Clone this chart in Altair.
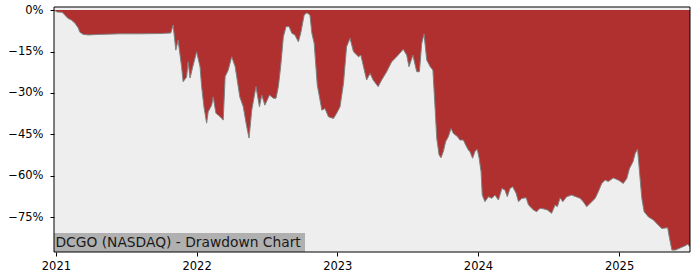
import altair as alt
import pandas as pd

dates = [
    "2020-12-27", "2021-01-04", "2021-01-17", "2021-01-24", "2021-02-01", "2021-02-10",
    "2021-02-19", "2021-02-28", "2021-03-04", "2021-03-13", "2021-03-26", "2021-04-25",
    "2021-06-16", "2021-08-07", "2021-09-28", "2021-10-26", "2021-11-01", "2021-11-08",
    "2021-11-14", "2021-11-23", "2021-11-27", "2021-12-06", "2021-12-10", "2021-12-15",
    "2021-12-22", "2022-01-01", "2022-01-10", "2022-01-14", "2022-01-20", "2022-01-27",
    "2022-01-31", "2022-02-09", "2022-02-13", "2022-02-20", "2022-02-26", "2022-03-07",
    "2022-03-11", "2022-03-16", "2022-03-24", "2022-04-02", "2022-04-11", "2022-04-15",
    "2022-04-23", "2022-05-02", "2022-05-11", "2022-05-17", "2022-05-24", "2022-06-04",
    "2022-06-13", "2022-06-19", "2022-06-27", "2022-07-09", "2022-07-19", "2022-07-26",
    "2022-08-01", "2022-08-07", "2022-08-14", "2022-08-21", "2022-08-29", "2022-09-05",
    "2022-09-13", "2022-09-22", "2022-09-28", "2022-10-07", "2022-10-14", "2022-10-22",
    "2022-10-27", "2022-11-02", "2022-11-10", "2022-11-22", "2022-11-30", "2022-12-09",
    "2022-12-22", "2022-12-30", "2023-01-08", "2023-01-17", "2023-01-25", "2023-02-03",
    "2023-02-12", "2023-02-25", "2023-03-03", "2023-03-09", "2023-03-18", "2023-03-27",
    "2023-04-04", "2023-04-17", "2023-04-26", "2023-05-09", "2023-05-22", "2023-06-04",
    "2023-06-21", "2023-06-30", "2023-07-06", "2023-07-16", "2023-07-26", "2023-08-02",
    "2023-08-08", "2023-08-14", "2023-08-21", "2023-08-30", "2023-09-06", "2023-09-12",
    "2023-09-16", "2023-09-22", "2023-09-27", "2023-10-03", "2023-10-09", "2023-10-16",
    "2023-10-23", "2023-10-29", "2023-11-09", "2023-11-15", "2023-11-24", "2023-11-30",
    "2023-12-07", "2023-12-11", "2023-12-18", "2023-12-24", "2023-12-30", "2024-01-04",
    "2024-01-09", "2024-01-12", "2024-01-19", "2024-01-28", "2024-02-06", "2024-02-14",
    "2024-02-23", "2024-03-03", "2024-03-11", "2024-03-17", "2024-03-24", "2024-03-31",
    "2024-04-09", "2024-04-15", "2024-04-24", "2024-05-05", "2024-05-11", "2024-05-24",
    "2024-06-01", "2024-06-10", "2024-06-19", "2024-06-29", "2024-07-10", "2024-07-19",
    "2024-07-25", "2024-08-01", "2024-08-08", "2024-08-18", "2024-08-31", "2024-09-11",
    "2024-09-22", "2024-09-30", "2024-10-09", "2024-10-18", "2024-10-31", "2024-11-08",
    "2024-11-17", "2024-11-26", "2024-12-04", "2024-12-17", "2024-12-30", "2025-01-12",
    "2025-01-21", "2025-01-28", "2025-02-06", "2025-02-12", "2025-02-18", "2025-02-23",
    "2025-03-01", "2025-03-07", "2025-03-18", "2025-03-31", "2025-04-13", "2025-04-22",
    "2025-05-07", "2025-05-12", "2025-05-18", "2025-05-27", "2025-06-09", "2025-06-22",
    "2025-06-28", "2025-07-04",
]

drawdown_pct = [
    0.0, -0.7, -0.8, -1.8, -3.0, -3.6,
    -4.7, -6.5, -8.0, -8.8, -9.0, -8.8,
    -8.6, -8.6, -8.5, -8.3, -5.4, -14.5,
    -10.9, -20.5, -25.9, -24.2, -18.7, -24.6,
    -20.5, -15.1, -20.6, -27.7, -35.0, -40.9,
    -36.8, -34.4, -31.4, -37.3, -38.0, -39.1,
    -39.8, -24.1, -21.7, -16.9, -20.5, -24.1,
    -31.4, -35.0, -42.2, -46.3, -36.2, -27.7,
    -35.0, -30.7, -34.4, -30.7, -31.9, -31.9,
    -27.7, -20.5, -9.7, -6.0, -6.0, -8.4,
    -9.0, -11.5, -8.4, -1.8, -1.0, -1.8,
    -8.4, -12.0, -27.1, -36.2, -35.6, -38.6,
    -39.2, -37.4, -35.0, -26.5, -13.3, -10.2,
    -15.1, -16.9, -16.3, -19.9, -25.3, -22.9,
    -25.3, -27.7, -25.3, -22.3, -18.7, -16.9,
    -14.2, -16.3, -20.5, -16.3, -22.3, -22.3,
    -12.0, -8.7, -18.1, -20.5, -21.7, -36.2,
    -46.4, -52.4, -53.4, -51.2, -47.6, -45.8,
    -42.8, -44.6, -45.8, -47.0, -47.0, -48.8,
    -50.6, -51.2, -53.6, -51.2, -50.3, -53.6,
    -58.5, -66.9, -69.3, -67.5, -68.1, -66.9,
    -68.7, -64.5, -65.1, -67.5, -64.5, -63.9,
    -66.3, -69.3, -68.1, -67.9, -70.5, -72.3,
    -72.9, -71.7, -71.9, -72.3, -73.5, -70.5,
    -71.1, -67.9, -69.3, -67.5, -66.9, -67.5,
    -68.1, -69.3, -71.1, -69.9, -68.1, -65.7,
    -62.7, -61.5, -62.0, -60.7, -61.5, -62.7,
    -60.9, -57.3, -54.9, -51.8, -50.3, -58.5,
    -68.1, -72.9, -74.8, -75.9, -77.8, -79.0,
    -78.7, -82.6, -86.8, -86.8, -86.0, -85.2,
    -84.7, -85.6,
]

year_ticks = [2021, 2022, 2023, 2024, 2025]
y_ticks = [0, -0.15, -0.30, -0.45, -0.60, -0.75]
label_text = ["DCGO (NASDAQ) - Drawdown Chart"]

df = pd.DataFrame({"date": dates, "dd": [v / 100 for v in drawdown_pct]})

W, H = 636, 245
FONT = "DejaVu Sans"

x_enc = alt.X(
    "date:T",
    scale=alt.Scale(
        type="utc",
        domain=[
            alt.DateTime(year=2020, month=12, date=27, utc=True),
            alt.DateTime(year=2025, month=7, date=4, utc=True),
        ],
    ),
    axis=alt.Axis(
        values=[alt.DateTime(year=y, month=1, date=1, utc=True) for y in year_ticks],
        format="%Y",
        title=None,
        grid=False,
        domain=False,
        tickColor="black",
        tickSize=4,
        labelPadding=4,
        labelFont=FONT,
        labelFontSize=11.5,
        labelColor="black",
    ),
)
y_enc = alt.Y(
    "dd:Q",
    scale=alt.Scale(domain=[-0.875, 0.011], nice=False, zero=False),
    axis=alt.Axis(
        values=y_ticks,
        format=".0%",
        title=None,
        grid=False,
        domain=False,
        tickColor="black",
        tickSize=4,
        labelPadding=7,
        labelFont=FONT,
        labelFontSize=11.5,
        labelColor="black",
    ),
)

base = alt.Chart(df)
area = base.mark_area(color="#b03030", interpolate="linear", clip=True).encode(
    x=x_enc, y=y_enc, y2=alt.value(0)
)
line = base.mark_line(color="#808080", strokeWidth=1, clip=True).encode(x=x_enc, y=y_enc)

lab_df = pd.DataFrame({"t": label_text})
box = alt.Chart(lab_df).mark_rect(color="#b0b0b0").encode(
    x=alt.value(0), x2=alt.value(251), y=alt.value(226), y2=alt.value(245)
)
txt = alt.Chart(lab_df).mark_text(
    align="left", baseline="alphabetic", font=FONT, fontSize=13.8, color="#1a1a1a"
).encode(x=alt.value(1.5), y=alt.value(240.3), text="t:N")

frame = alt.Chart(lab_df).mark_rect(filled=False, stroke="black", strokeWidth=1).encode(
    x=alt.value(0), x2=alt.value(W), y=alt.value(0), y2=alt.value(H)
)

chart = (
    alt.layer(area, line, box, txt, frame)
    .properties(
        width=W,
        height=H,
        padding={"left": 54, "top": 7, "right": 10, "bottom": 28},
        autosize=alt.AutoSizeParams(type="none"),
        background="white",
    )
    .configure_view(stroke=None, fill="#eeeeee")
)

chart.save("out.html", embed_options={"renderer": "svg", "actions": False})
